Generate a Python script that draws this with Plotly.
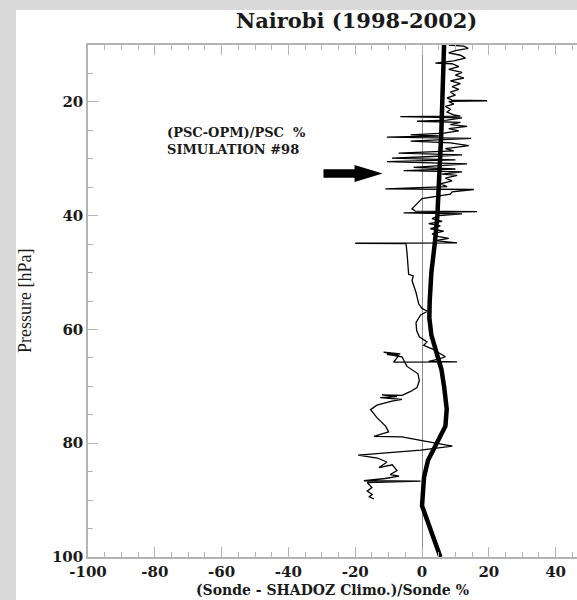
import plotly.graph_objects as go

# Thick curve: simulated profile (PSC-OPM)/PSC %, pressure in hPa
psc_p = [10, 15, 20, 25, 30, 35, 40, 45, 50, 55, 58, 61, 64, 67, 70, 74, 77, 80, 83, 86, 88.5, 91, 100]
psc_diff = [6.6, 6.4, 6.0, 5.8, 5.4, 5.1, 4.6, 3.8, 2.8, 2.3, 2.2, 2.8, 4.3, 5.8, 6.6, 7.4, 7.0, 4.5, 1.8, 0.6, 0.2, 0.0, 5.5]

# Thin curve: (Sonde - SHADOZ climatology)/Sonde %, pressure in hPa
sonde_p = [
    10.0, 10.2, 10.6, 11.0, 11.4, 11.8, 12.3, 12.8, 13.2, 13.3, 13.8, 14.3, 14.8, 15.3, 15.8,
    16.3, 16.8, 17.3, 17.8, 18.3, 18.8, 19.3, 19.7, 19.8, 19.9, 20.4, 20.8, 21.3, 21.8, 22.3,
    22.5, 22.6, 22.8, 23.2, 23.4, 23.6, 24.0, 24.3, 24.7, 25.1, 25.5, 25.8, 26.0, 26.2, 26.4,
    26.7, 26.9, 27.2, 27.7, 28.2, 28.6, 29.0, 29.3, 29.6, 29.9, 30.2, 30.5, 30.9, 31.2, 31.5,
    31.8, 32.1, 32.3, 32.7, 32.9, 33.4, 33.9, 34.4, 34.9, 35.3, 35.4, 35.8, 36.2, 37.0, 38.8,
    39.2, 39.3, 39.5, 39.7, 40.0, 40.5, 41.0, 41.4, 41.8, 42.3, 42.7, 43.2, 43.7, 44.0, 44.4,
    44.8, 44.85, 44.9, 46.5, 48.5, 50.3, 50.6, 51.4, 53.5, 55.5, 56.3, 56.8, 57.5, 58.8, 60.2,
    61.3, 62.2, 62.8, 63.4, 64.2, 64.8, 65.2, 65.6, 65.7, 65.75, 64.6, 64.0, 64.3, 64.4, 64.8,
    66.5, 67.8, 69.0, 70.2, 70.9, 71.6, 71.5, 71.8, 72.0, 72.3, 72.6, 73.3, 74.1, 75.5, 77.0,
    78.0, 78.8, 78.9, 79.2, 79.5, 80.5, 81.2, 82.1, 82.6, 83.3, 84.3, 83.8, 84.8, 85.5, 85.8,
    86.2, 86.6, 86.65, 86.9, 87.8, 88.4, 89.0, 89.4, 89.8,
]
sonde_diff = [
    8.0, 12.5, 13.8, 10.0, 8.0, 11.5, 13.0, 9.5, 4.0, 9.0, 11.0, 8.0, 12.0, 10.0, 12.5,
    8.5, 11.5, 9.0, 11.0, 8.5, 10.0, 7.5, 9.0, 19.5, 8.0, 9.5, 7.0, 8.5, 7.5, 9.5,
    11.5, -6.5, 12.0, 7.5, -1.5, 11.5, 8.5, 13.5, 8.0, 11.0, 6.5, -3.4, 5.0, -10.5, 14.7,
    4.0, -3.4, 8.5, 14.0, 7.0, 9.5, -7.0, 12.0, 3.0, -9.0, 10.0, -10.5, 13.5, 4.0, -2.5,
    10.0, -5.5, 12.0, 6.0, 10.5, 7.0, 9.0, 5.5, 7.5, -11.0, 15.5, 9.0, 8.5, 0.0, -3.0,
    -2.0, 16.5, -5.5, 12.0, 5.0, 3.0, 6.0, 2.0, 5.5, 2.5, 6.5, 3.0, 5.0, 8.0, 4.0,
    10.5, -20.0, -4.8, -4.5, -4.2, -4.0, -2.6, -3.0, -1.8, -1.0, 0.0, 1.6, -0.5, -1.8, -1.6,
    -0.8, 1.5, 0.5, 3.0, 5.5, 7.0, 5.0, 2.0, 10.5, -8.5, -7.0, -11.5, -6.5, -10.5, -6.0,
    -4.5, -1.2, -0.8, -1.5, -3.4, -6.0, -12.0, -7.5, -12.5, -6.0, -9.0, -13.5, -15.4, -13.5, -10.9,
    -10.0, -14.4, -6.0, -3.4, -0.4, 9.1, -0.4, -19.1, -13.4, -10.5, -12.9, -8.9, -7.5, -9.5, -6.9,
    -11.0, -17.4, -0.4, -16.4, -15.0, -16.4, -14.9, -15.9, -14.4,
]

x_range = [-100, 46.4]
p_range = [100, 10]
x_major = [-100, -80, -60, -40, -20, 0, 20, 40]
p_major = [20, 40, 60, 80, 100]

# Arrow pointing at the simulated curve (tail/tip in data units)
arrow_tail = (-29.5, 32.6)
arrow_tip = (-11.8, 32.6)
arrow_head_len = 8.4
arrow_shaft_half = 0.75
arrow_head_half = 1.5

serif_bold = "DejaVu Serif"
axis_grey = "#b4b4b4"
text_black = "#1a1a1a"

fig = go.Figure()

fig.add_trace(go.Scatter(
    x=sonde_diff, y=sonde_p, mode="lines",
    line=dict(color="black", width=1.3), hoverinfo="skip", showlegend=False,
))
fig.add_trace(go.Scatter(
    x=psc_diff, y=psc_p, mode="lines",
    line=dict(color="black", width=4.5), hoverinfo="skip", showlegend=False,
))

# Arrow body as a filled polygon
tx, ty = arrow_tail
hx, hy = arrow_tip
neck = hx - arrow_head_len
arrow_path = (
    f"M {tx},{ty - arrow_shaft_half} L {neck},{ty - arrow_shaft_half} "
    f"L {neck},{ty - arrow_head_half} L {hx},{hy} L {neck},{ty + arrow_head_half} "
    f"L {neck},{ty + arrow_shaft_half} L {tx},{ty + arrow_shaft_half} Z"
)

W, H = 577, 600
ml, mr, mt, mb = 88, 0, 45, 43
pw, ph = W - ml - mr, H - mt - mb


def px_to_paper_x(px):
    return (px - ml) / pw


def px_to_paper_y(py):
    return (H - mb - py) / ph


shapes = [
    # white page panel on a grey surround
    dict(type="rect", xref="paper", yref="paper", layer="below",
         x0=px_to_paper_x(16), x1=px_to_paper_x(W + 5),
         y0=px_to_paper_y(H + 5), y1=px_to_paper_y(10),
         fillcolor="white", line=dict(width=0)),
    dict(type="path", xref="x", yref="y", path=arrow_path,
         fillcolor="black", line=dict(width=0)),
]

annotations = [
    dict(text="<b>Nairobi (1998-2002)</b>", xref="paper", yref="paper",
         x=px_to_paper_x(356), y=px_to_paper_y(20), xanchor="center", yanchor="middle",
         showarrow=False, font=dict(family=serif_bold, size=21, color=text_black)),
    dict(text="<b>(PSC-OPM)/PSC  %<br>SIMULATION #98</b>", xref="x", yref="y",
         x=-76.8, y=26.8, xanchor="left", yanchor="middle", align="left",
         showarrow=False, font=dict(family=serif_bold, size=13, color=text_black)),
    dict(text="Pressure [hPa]", xref="paper", yref="paper",
         x=px_to_paper_x(25), y=0.5, xanchor="center", yanchor="middle", textangle=-90,
         showarrow=False, font=dict(family="Liberation Serif", size=18, color=text_black)),
    dict(text="<b>(Sonde - SHADOZ Climo.)/Sonde %</b>", xref="paper", yref="paper",
         x=0.5, y=px_to_paper_y(600), xanchor="center", yanchor="bottom",
         showarrow=False, font=dict(family=serif_bold, size=14, color=text_black)),
]

fig.update_layout(
    width=W, height=H,
    margin=dict(l=ml, r=mr, t=mt, b=mb),
    paper_bgcolor="#d9d9d9", plot_bgcolor="white",
    shapes=shapes, annotations=annotations, showlegend=False,
    xaxis=dict(
        range=x_range, tickmode="array", tickvals=x_major,
        ticktext=[f"<b>{v}</b>" for v in x_major],
        ticks="inside", ticklen=10, tickwidth=1, tickcolor=axis_grey,
        minor=dict(dtick=5, tick0=0, ticks="inside", ticklen=5, tickcolor=axis_grey),
        showline=True, linecolor=axis_grey, linewidth=1.5, mirror="ticks",
        showgrid=False, zeroline=True, zerolinecolor="#8c8c8c", zerolinewidth=1,
        tickfont=dict(family=serif_bold, size=15, color=text_black),
        ticklabelstandoff=0,
    ),
    yaxis=dict(
        range=p_range, tickmode="array", tickvals=p_major,
        ticktext=[f"<b>{v}</b>" for v in p_major],
        ticks="inside", ticklen=10, tickwidth=1, tickcolor=axis_grey,
        minor=dict(dtick=5, tick0=0, ticks="inside", ticklen=5, tickcolor=axis_grey),
        showline=True, linecolor=axis_grey, linewidth=1.5, mirror=False,
        showgrid=False, zeroline=False,
        tickfont=dict(family=serif_bold, size=15, color=text_black),
    ),
)

fig.write_html("out.html")
